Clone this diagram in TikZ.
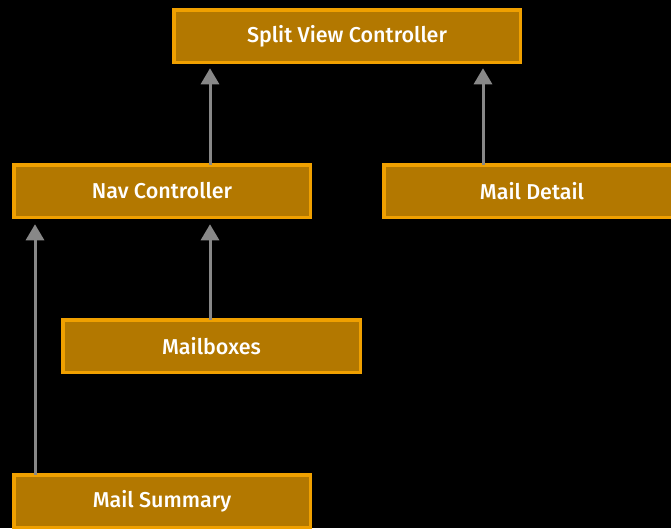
\documentclass[tikz,border=0pt]{standalone}
\usepackage{fontspec}
\newfontfamily\lblfont{Fira Sans Medium}
\usetikzlibrary{arrows.meta}
\definecolor{boxfill}{HTML}{B37800}
\definecolor{boxedge}{HTML}{F0A000}
\definecolor{linkgray}{HTML}{888888}
\tikzset{
  vcbox/.style={draw=boxedge, fill=boxfill, line width=3.5pt, inner sep=0pt, outer sep=0pt,
    minimum height=52.5pt, text=white, font=\lblfont\fontsize{21.5}{25}\selectfont},
  uparrow/.style={draw=linkgray, line width=3pt, -{Triangle[length=16pt,width=18pt]}}
}
\begin{document}
\begin{tikzpicture}[x=1pt,y=-1pt]
  \fill[black] (0,0) rectangle (671,528);
  \useasboundingbox (0,0) rectangle (671,528);
  \clip (0,0) rectangle (671,528);
  % view controller boxes
  \node[vcbox, minimum width=346.5pt] (split) at (347,36) {Split View Controller};
  \node[vcbox, minimum width=296.5pt] (nav) at (162,191) {Nav Controller};
  \node[vcbox, minimum width=296.5pt] (detail) at (532,191) {Mail Detail};
  \node[vcbox, minimum width=297.5pt] (mailboxes) at (211.5,346) {Mailboxes};
  \node[vcbox, minimum width=296.5pt] (summary) at (162,501) {Mail Summary};
  % child -> parent links
  \draw[uparrow, shorten >=6pt] (nav.north -| 210,0) -- (split.south -| 210,0);
  \draw[uparrow, shorten >=6pt] (detail.north -| 483,0) -- (split.south -| 483,0);
  \draw[uparrow, shorten >=7pt] (mailboxes.north -| 210,0) -- (nav.south -| 210,0);
  \draw[uparrow, shorten >=7pt] (summary.north -| 35,0) -- (nav.south -| 35,0);
\end{tikzpicture}
\end{document}
